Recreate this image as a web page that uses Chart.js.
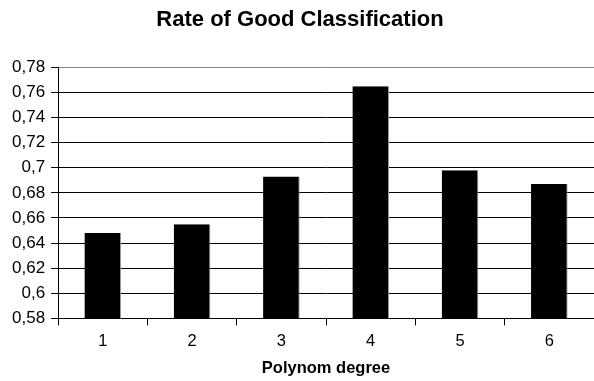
<!DOCTYPE html>
<html lang="en">
<head>
  <meta charset="UTF-8" />
  <title>Rate of Good Classification</title>
  <script src="https://cdn.jsdelivr.net/npm/chart.js"></script>
  <style>
    html, body { margin: 0; padding: 0; background: #fff; }
    #wrap { width: 594px; height: 381px; }
  </style>
</head>
<body>
  <div id="wrap"><canvas id="chart" width="594" height="381"></canvas></div>
  <script>
    const degrees = ["1", "2", "3", "4", "5", "6"];
    const rates = [0.648, 0.655, 0.693, 0.765, 0.698, 0.687];
    const yMin = 0.58;
    const yMax = 0.78;

    const font = "'Liberation Sans', Arial, sans-serif";

    new Chart(document.getElementById("chart"), {
      type: "bar",
      data: {
        labels: degrees,
        datasets: [{
          label: "Rate",
          data: rates,
          backgroundColor: "#000",
          borderColor: "#999",
          borderWidth: { right: 1, top: 0, left: 0, bottom: 0 },
          categoryPercentage: 1,
          barPercentage: 0.41
        }]
      },
      options: {
        responsive: false,
        animation: false,
        layout: { padding: { left: 6, right: 0, top: 0, bottom: 3 } },
        scales: {
          y: {
            min: yMin,
            max: yMax,
            ticks: {
              stepSize: 0.02,
              color: "#000",
              font: { family: font, size: 17 },
              padding: 6,
              callback: v => String(Math.round(v * 100) / 100).replace(".", ",")
            },
            grid: {
              color: ctx => (ctx.tick && Math.abs(ctx.tick.value - yMax) < 1e-6) ? "#888" : "#000",
              tickLength: 7,
              tickColor: "#000"
            },
            border: { color: "#000" }
          },
          x: {
            ticks: { color: "#000", font: { family: font, size: 16.5 }, padding: 6 },
            grid: { offset: true, drawOnChartArea: false, tickLength: 7, color: "#000" },
            border: { color: "#000" },
            title: {
              display: true,
              text: "Polynom degree",
              color: "#000",
              font: { family: font, size: 16.5, weight: "bold" },
              padding: { top: 1, bottom: 0 }
            }
          }
        },
        plugins: {
          legend: { display: false },
          tooltip: { enabled: false },
          title: {
            display: true,
            text: "Rate of Good Classification",
            color: "#000",
            font: { family: font, size: 22, weight: "bold" },
            padding: { top: 7, bottom: 34 }
          }
        }
      }
    });
  </script>
</body>
</html>
